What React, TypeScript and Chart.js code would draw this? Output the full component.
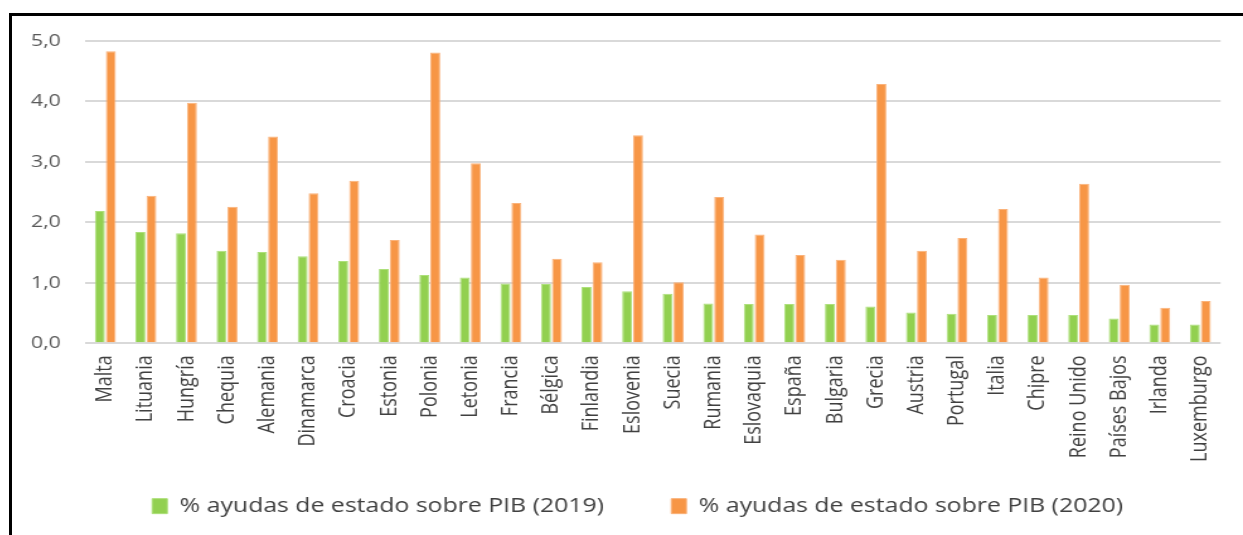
import React, { useEffect, useRef } from "react";
import { Chart, registerables } from "chart.js";

Chart.register(...registerables);

const categories = [
  "Malta", "Lituania", "Hungría", "Chequia", "Alemania", "Dinamarca", "Croacia",
  "Estonia", "Polonia", "Letonia", "Francia", "Bélgica", "Finlandia", "Eslovenia",
  "Suecia", "Rumania", "Eslovaquia", "España", "Bulgaria", "Grecia", "Austria",
  "Portugal", "Italia", "Chipre", "Reino Unido", "Países Bajos", "Irlanda", "Luxemburgo",
];

const values2019 = [
  2.19, 1.84, 1.82, 1.53, 1.51, 1.44, 1.36, 1.23, 1.13, 1.09, 0.99, 0.98, 0.93, 0.86,
  0.82, 0.66, 0.65, 0.65, 0.65, 0.61, 0.51, 0.49, 0.47, 0.47, 0.47, 0.41, 0.31, 0.31,
];

const values2020 = [
  4.83, 2.44, 3.98, 2.26, 3.42, 2.48, 2.69, 1.71, 4.81, 2.98, 2.32, 1.40, 1.34, 3.44,
  1.01, 2.42, 1.80, 1.46, 1.38, 4.29, 1.53, 1.74, 2.22, 1.09, 2.64, 0.97, 0.59, 0.70,
];

const seriesNames = [
  "% ayudas de estado sobre PIB (2019)",
  "% ayudas de estado sobre PIB (2020)",
];

const yTickLabels = ["0,0", "1,0", "2,0", "3,0", "4,0", "5,0"];

const STRETCH = 1.26;
const PAGE_W = 1231;
const CANVAS_W = Math.round(PAGE_W / STRETCH);
const CANVAS_H = 519;

export default function App() {
  const ref = useRef<HTMLCanvasElement | null>(null);

  useEffect(() => {
    if (!ref.current) return;
    const chart = new Chart(ref.current, {
      type: "bar",
      data: {
        labels: categories,
        datasets: [
          {
            label: seriesNames[0],
            data: values2019,
            backgroundColor: "#92D050",
            borderColor: "#ade07a",
            borderWidth: 1,
            categoryPercentage: 0.54,
            barPercentage: 0.91,
          },
          {
            label: seriesNames[1],
            data: values2020,
            backgroundColor: "#F79646",
            borderColor: "#fab27a",
            borderWidth: 1,
            categoryPercentage: 0.54,
            barPercentage: 0.91,
          },
        ],
      },
      options: {
        responsive: false,
        animation: false,
        maintainAspectRatio: false,
        layout: { padding: { left: 32, right: 16, top: 25, bottom: 9 } },
        plugins: {
          title: { display: false },
          tooltip: { enabled: false },
          legend: {
            position: "bottom",
            labels: {
              font: { family: "'Open Sans'", size: 19.7 },
              color: "#404040",
              boxWidth: 12,
              boxHeight: 15,
              padding: 33,
              generateLabels: (c: any) => {
                const items = Chart.defaults.plugins.legend.labels.generateLabels(c);
                items.forEach((it: any, i: number) => {
                  if (i < items.length - 1) it.text = it.text + "    ";
                });
                return items;
              },
            },
          },
        },
        scales: {
          x: {
            grid: { display: false, drawTicks: false },
            border: { display: false },
            ticks: {
              autoSkip: false,
              minRotation: 90,
              maxRotation: 90,
              padding: 12,
              color: "#404040",
              font: { family: "'Open Sans'", size: 18 },
            },
            afterFit: (scale: any) => {
              scale.height = 120;
            },
          },
          y: {
            min: 0,
            max: 5,
            grid: { color: "#d9d9d9", lineWidth: 2, drawTicks: false },
            border: { display: false },
            ticks: {
              stepSize: 1,
              mirror: true,
              padding: -43,
              color: "#595959",
              font: { family: "'Open Sans'", size: 17 },
              callback: (v: any) => yTickLabels[Math.round(Number(v))] ?? "",
            },
            afterFit: (scale: any) => {
              scale.width = 26;
            },
          },
        },
      },
    });
    return () => chart.destroy();
  }, []);

  return (
    <div
      style={{
        position: "absolute",
        left: 9,
        top: 13,
        width: 1234,
        height: 522,
        borderTop: "3px solid #000",
        borderLeft: "3px solid #000",
        boxSizing: "border-box",
        background: "#fff",
        overflow: "hidden",
      }}
    >
      <canvas
        ref={ref}
        width={CANVAS_W}
        height={CANVAS_H}
        style={{
          position: "absolute",
          left: 0,
          top: 0,
          width: CANVAS_W,
          height: CANVAS_H,
          transform: `scaleX(${STRETCH})`,
          transformOrigin: "0 0",
        }}
      />
    </div>
  );
}
